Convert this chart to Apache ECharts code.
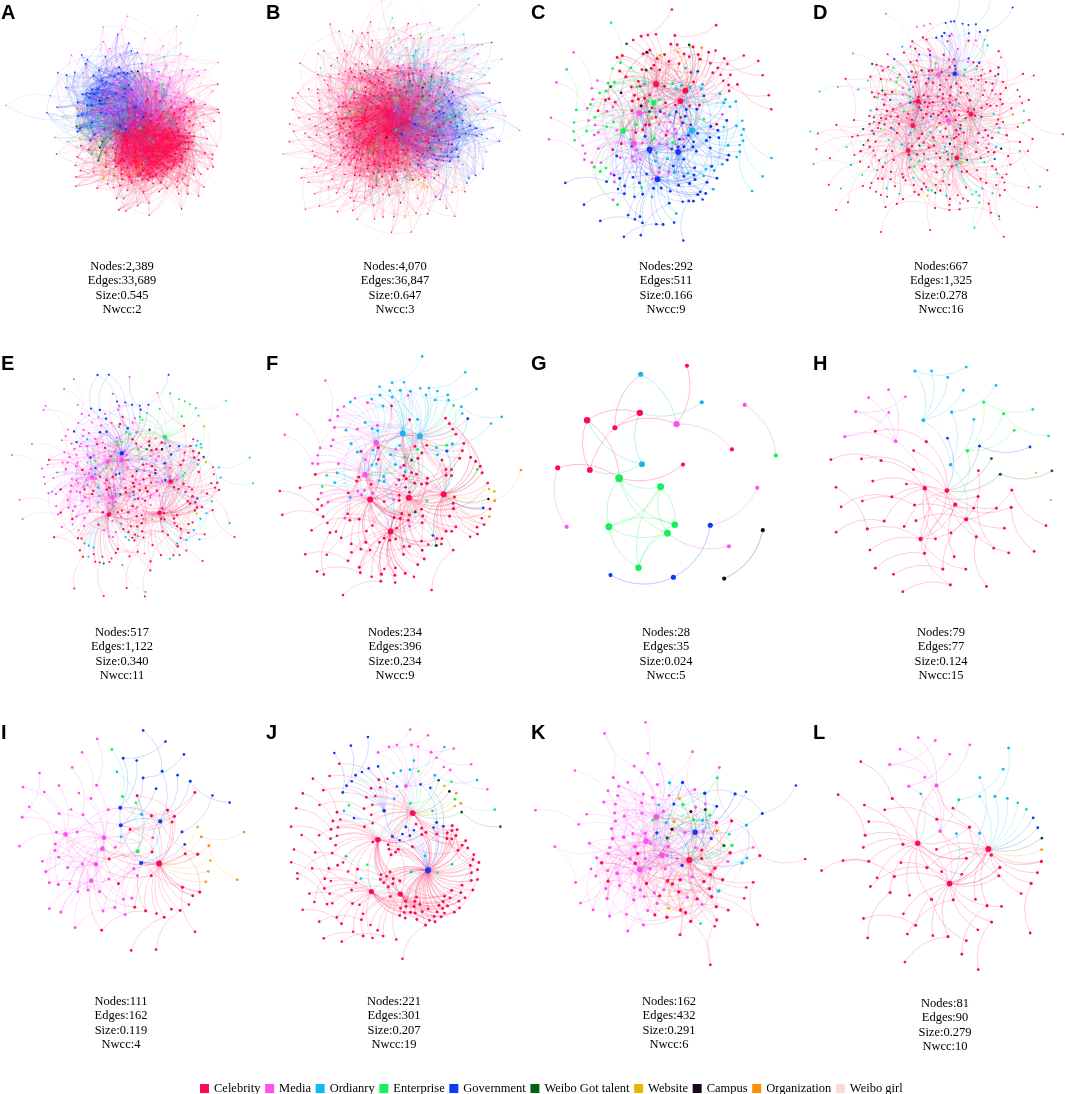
<!DOCTYPE html>
<html><head><meta charset="utf-8">
<script src="https://cdn.jsdelivr.net/npm/echarts@6/dist/echarts.min.js"></script>
<style>html,body{margin:0;padding:0;background:#fff}#chart{width:1065px;height:1094px}</style>
</head><body><div id="chart"></div>
<script>
// ---------- data ----------
const categories = ['Celebrity','Media','Ordianry','Enterprise','Government','Weibo Got talent','Website','Campus','Organization','Weibo girl'];
const panelLetters = ['A','B','C','D','E','F','G','H','I','J','K','L'];
const nodeTotals = ['2,389','4,070','292','667','517','234','28','79','111','221','162','81'];
const edgeTotals = ['33,689','36,847','511','1,325','1,122','396','35','77','162','301','432','90'];
const sizeValues = ['0.545','0.647','0.166','0.278','0.340','0.234','0.024','0.124','0.119','0.207','0.291','0.279'];
const nwccValues = ['2','3','9','16','11','9','5','15','4','19','6','10'];

// drawn nodes per category (order = categories)
const compA = [200, 90, 20, 15, 60, 4, 4, 3, 4, 0];
const compB = [300, 70, 50, 20, 40, 6, 4, 4, 6, 0];
const compC = [80, 45, 40, 35, 80, 5, 2, 3, 2, 0];
const compD = [270, 35, 40, 35, 35, 8, 3, 2, 2, 0];
const compE = [140, 130, 40, 25, 30, 5, 3, 2, 3, 0];
const compF = [128, 35, 50, 8, 4, 3, 2, 1, 3, 0];
const compH = [48, 7, 10, 6, 3, 3, 0, 0, 2, 0];
const compI = [28, 50, 3, 4, 18, 0, 2, 0, 6, 0];
const compJ = [150, 15, 15, 8, 25, 3, 2, 1, 2, 0];
const compK = [40, 85, 8, 8, 12, 3, 2, 2, 2, 0];
const compL = [55, 10, 10, 2, 2, 1, 0, 0, 1, 0];
// hub nodes per category
const hubsA = [8, 5, 1, 1, 4, 0, 0, 0, 0, 0];
const hubsB = [10, 4, 3, 1, 3, 0, 0, 0, 0, 0];
const hubsC = [3, 2, 1, 2, 3, 0, 0, 0, 0, 0];
const hubsD = [5, 2, 0, 0, 1, 0, 0, 0, 0, 0];
const hubsE = [3, 4, 0, 1, 1, 0, 0, 0, 0, 0];
const hubsF = [4, 2, 2, 0, 0, 0, 0, 0, 0, 0];
const hubsH = [5, 1, 2, 1, 0, 0, 0, 0, 0, 0];
const hubsI = [1, 5, 0, 1, 4, 0, 0, 0, 0, 0];
const hubsJ = [4, 1, 0, 0, 2, 0, 0, 0, 0, 0];
const hubsK = [1, 4, 0, 0, 1, 0, 0, 0, 0, 0];
const hubsL = [3, 2, 0, 0, 0, 0, 0, 0, 0, 0];
// share of links kept inside a category, per category
const homoDefault = [0.5, 0.5, 0.5, 0.5, 0.5, 0.5, 0.5, 0.5, 0.5, 0.5];
const homoA = [0.8, 0.3, 0.3, 0.3, 0.9, 0.3, 0.3, 0.3, 0.3, 0.3];
const homoB = [0.5, 0.2, 0.5, 0.2, 0.9, 0.2, 0.2, 0.2, 0.2, 0.2];
// drawn link counts
const linksDrawn = [4200, 4000, 511, 855, 820, 396, 35, 77, 162, 301, 432, 90];
const leafShare = [0.3, 0.35, 0.25, 0.3, 0.3, 0.3, 0, 0.5, 0.3, 0.3, 0.3, 0.4];

// panel G read node by node
const gNodeCategories = [1,4,1,7,7,0,3,3,4,3,3,1,4,2,0,0,3,0,2,0,0,3,1,2,1,0,3,0];
const gLinks = [[1,2],[2,9],[9,13],[4,5],[3,8],[6,22],[7,8],[7,10],[7,11],[8,10],[8,11],[10,11],[10,17],[11,17],[10,22],[11,22],[17,22],[8,22],[12,16],[16,22],[14,18],[14,20],[14,26],[18,20],[18,26],[20,26],[20,22],[24,26],[15,19],[19,23],[21,23],[23,28],[25,27],[15,23],[7,17]];

// ---------- styles / layout ----------
const catColors = ['#ff0a50','#ff4ff0','#12b8f0','#16f05a','#0a3cf5','#006414','#e8b800','#1a0520','#ff8c0a','#fbdcd4'];
const centersX = [140, 397, 662, 937, 130, 398, 667, 942, 126, 396, 668, 945];
const centersY = [125, 120, 125, 122, 481, 481, 481, 480, 843, 846, 848, 850];
const letterX = [1, 266, 531, 813, 1, 266, 531, 813, 1, 266, 531, 813];
const letterY = [3, 3, 3, 3, 354, 354, 354, 354, 723, 723, 723, 723];
const textX = [122, 395, 666, 941, 122, 395, 666, 941, 121, 394, 669, 945];
const textY = [259, 259, 259, 259, 625, 625, 625, 625, 994, 994, 994, 996];
const repulsion = [6, 7, 2.5, 2.6, 2.3, 3.6, 30, 10, 6.5, 3.2, 7.5, 10];
const edgeLen = [40, 40, 40, 30, 30, 40, 60, 50, 45, 40, 40, 50];
const edgeOpacity = [0.18, 0.17, 0.3, 0.2, 0.22, 0.3, 0.45, 0.35, 0.3, 0.3, 0.25, 0.35];
const symBase = [1.2, 1.2, 2, 1.6, 1.6, 2, 2, 2, 2, 2, 2, 2];
const symK = [0.15, 0.15, 0.6, 0.4, 0.4, 0.6, 2.2, 0.8, 0.7, 0.6, 0.6, 0.8];
const symMax = [2.5, 2.5, 6, 4.5, 4.5, 6, 8.5, 7, 7, 6, 6, 7];
// order of category blocks on the initial circle
const orderDefault = [0, 1, 2, 3, 4, 5, 6, 7, 8, 9];
const orderA = [0, 2, 3, 5, 6, 7, 8, 9, 4, 1];
const orderB = [3, 2, 4, 5, 6, 7, 8, 9, 0, 1];
const orderC = [2, 4, 1, 3, 5, 6, 7, 8, 9, 0];
const orderE = [4, 0, 1, 2, 3, 5, 6, 7, 8, 9];
const orderJ = [0, 4, 1, 2, 3, 5, 6, 7, 8, 9];
const orders = [orderA, orderB, orderC, orderDefault, orderE, orderDefault, null, orderDefault, orderDefault, orderJ, orderDefault, orderDefault];

const comps = [compA, compB, compC, compD, compE, compF, null, compH, compI, compJ, compK, compL];
const hubs = [hubsA, hubsB, hubsC, hubsD, hubsE, hubsF, null, hubsH, hubsI, hubsJ, hubsK, hubsL];
const homos = [homoA, homoB, homoDefault, homoDefault, homoDefault, homoDefault, null, homoDefault, homoDefault, homoDefault, homoDefault, homoDefault];

function buildGeneric(p) {
  const comp = comps[p], hub = hubs[p], homo = homos[p], L = linksDrawn[p];
  const catOf = [], start = [], isLeaf = [];
  orders[p].forEach(c => {
    const cnt = comp[c];
    start[c] = catOf.length;
    for (let j = 0; j < cnt; j++) { catOf.push(c); isLeaf.push(j >= Math.ceil(cnt * (1 - leafShare[p])) && j >= hub[c]); }
  });
  const N = catOf.length;
  const hubList = [];
  const hubsOf = [];
  orders[p].forEach(c => { const a = []; for (let j = 0; j < Math.min(hub[c], comp[c]); j++) a.push(start[c] + j); hubList.push(...a); hubsOf[c] = a; });
  const core = []; for (let i = 0; i < N; i++) if (!isLeaf[i]) core.push(i);
  const links = [];
  for (let k = 0; k < L; k++) {
    let i, r;
    if (k < N) { i = k; r = 0; } else { i = core[(k - N) % core.length]; r = 1 + Math.floor((k - N) / core.length); }
    const c = catOf[i];
    const own = hubsOf[c].length ? hubsOf[c] : hubsOf[0].length ? hubsOf[0] : hubList;
    const j = i - start[c];
    let t;
    if (r === 0) t = (j % 3 === 2) ? i - 1 : own[Math.floor(j / 3) % own.length];
    else if (r % 3 === 1) t = hubList[(i * 7 + r * 5) % hubList.length];
    else if (((i + r * 3) % 10) < homo[c] * 10) t = start[c] + ((i * 17 + r * 29) % comp[c]);
    else t = (i * 17 + r * 29) % N;
    if (t === i) t = hubList[(i + 1) % hubList.length];
    if (t === i) continue;
    links.push([i, t]);
  }
  return { catOf, links };
}
function buildG() {
  return { catOf: gNodeCategories.slice(), links: gLinks.map(l => [l[0] - 1, l[1] - 1]) };
}

const series = [];
const graphic = [];
for (let p = 0; p < 12; p++) {
  const g = p === 6 ? buildG() : buildGeneric(p);
  const deg = g.catOf.map(() => 0);
  g.links.forEach(l => { deg[l[0]]++; deg[l[1]]++; });
  const data = g.catOf.map((c, i) => ({
    name: panelLetters[p] + i, category: c,
    symbolSize: Math.min(symMax[p], symBase[p] + symK[p] * Math.sqrt(deg[i]))
  }));
  const links = g.links.map(l => ({ source: l[0], target: l[1] }));
  series.push({
    type: 'graph', layout: 'force', silent: true, roam: false,
    left: centersX[p] - 130, top: centersY[p] - 130, width: 260, height: 260,
    categories: categories.map((n, i) => ({ name: n, itemStyle: { color: catColors[i] } })),
    data, links, symbol: 'circle',
    label: { show: false },
    force: { initLayout: 'circular', repulsion: repulsion[p], gravity: 0.1, edgeLength: edgeLen[p], layoutAnimation: false, friction: 0.6 },
    lineStyle: { color: 'source', opacity: edgeOpacity[p], width: 0.6, curveness: 0.25 },
    emphasis: { disabled: true }
  });
  graphic.push({ type: 'text', x: letterX[p], y: letterY[p], style: { text: panelLetters[p], font: 'bold 20px "Liberation Sans", Arial, sans-serif', fill: '#000', textVerticalAlign: 'top' } });
  graphic.push({ type: 'text', x: textX[p], y: textY[p], style: {
    text: 'Nodes:' + nodeTotals[p] + '\nEdges:' + edgeTotals[p] + '\nSize:' + sizeValues[p] + '\nNwcc:' + nwccValues[p],
    font: '12.5px "Liberation Serif", "Times New Roman", serif', lineHeight: 14.6, fill: '#000', textAlign: 'center', textVerticalAlign: 'top' } });
}

const chart = echarts.init(document.getElementById('chart'), null, { renderer: 'canvas' });
chart.setOption({
  animation: false,
  backgroundColor: '#fff',
  legend: {
    data: categories, left: 200, top: 1082, padding: 0, itemWidth: 9, itemHeight: 9, itemGap: 4.6,
    icon: 'rect', selectedMode: false,
    textStyle: { fontFamily: '"Liberation Serif", "Times New Roman", serif', fontSize: 12.5, color: '#000' }
  },
  graphic,
  series
});
</script></body></html>
